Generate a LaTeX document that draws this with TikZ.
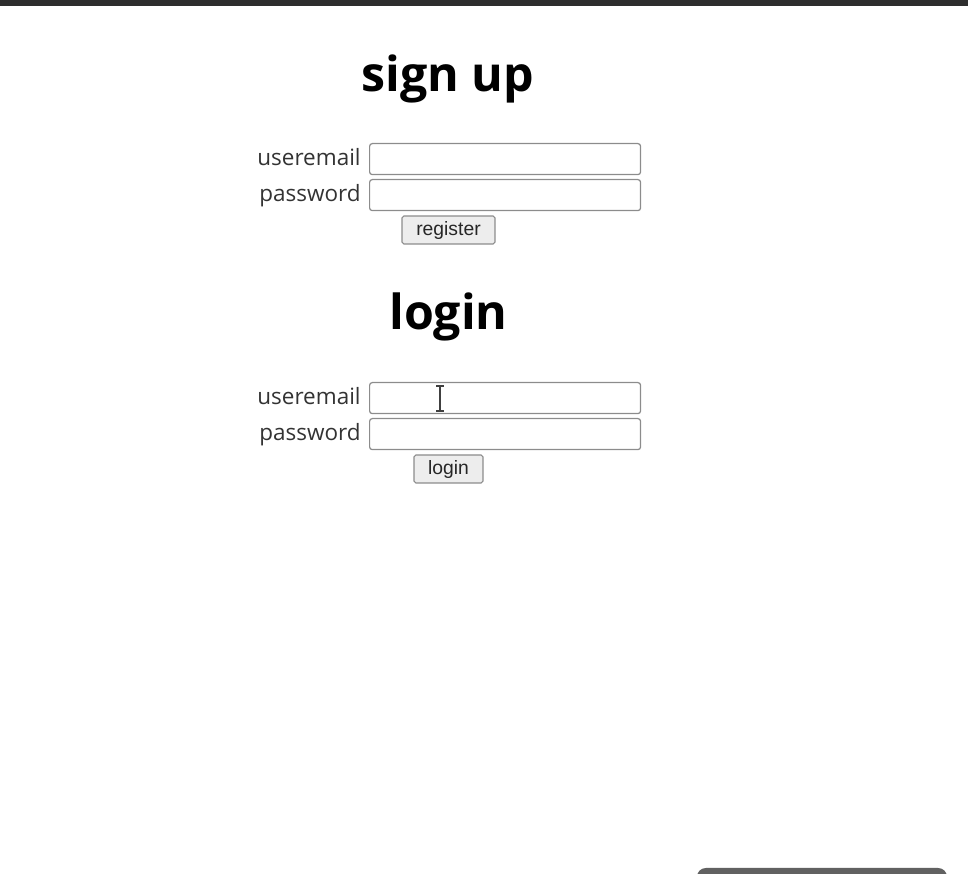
\documentclass[tikz,border=0pt]{standalone}
\usepackage{fontspec}
\setmainfont{Open Sans}
\newfontfamily\btnfont{Liberation Sans}
\usetikzlibrary{positioning}
\tikzset{field/.style={draw = black!45, line width = 0.7pt, rounded corners = 1.5pt,
  minimum width = 5.42cm, minimum height = 0.62cm, inner sep = 0pt},
  button/.style={draw = black!45, fill = black!7, line width = 0.6pt, rounded corners = 1pt,
  inner sep = 0pt, minimum height = 0.56cm, text = black!85},
  btntext/.style={anchor = base, inner sep = 0pt, font = \btnfont\fontsize{11}{12}\selectfont, text = black!85},
  label/.style={anchor = base east, inner sep = 0pt, font = \fontsize{12.8}{14}\selectfont, text = black!80},
  heading/.style={anchor = base, inner sep = 0pt, font = \fontsize{27.5}{30}\selectfont\bfseries}}

\begin{document}
\begin{tikzpicture}[x = 0.02cm, y = -0.02cm]
	\useasboundingbox (0,0) rectangle (968,874);
	\fill[black!82] (0,0) rectangle (968,6);
	
	% sign up
	\node[heading] (signup) at (448,92) {sign up};
	\node[field, anchor = north west] (signmail) at (369,143) {};
	\node[field, anchor = north west] (signpass) at (369,179) {};
	\node[label] (signmaillab) at (361,166) {useremail};
	\node[label] (signpasslab) at (361,202) {password};
	\node[button, minimum width = 1.86cm] (register) at (448.5,230) {};
	\node[btntext] (registertxt) at (448.5,236) {register};
	
	% login
	\node[heading] (login) at (448.5,330) {login};
	\node[field, anchor = north west] (logmail) at (369,382) {};
	\node[field, anchor = north west] (logpass) at (369,418) {};
	\node[label] (logmaillab) at (361,405) {useremail};
	\node[label] (logpasslab) at (361,441) {password};
	\node[button, minimum width = 1.38cm] (loginbtn) at (448.5,469) {};
	\node[btntext] (logintxt) at (448.5,475) {login};
	
	% text cursor
	\draw[line width = 0.9pt, black!75] (440,387) -- (440,410);
	\draw[line width = 0.9pt, black!75] (436,386) -- (444,386);
	\draw[line width = 0.9pt, black!75] (436,411) -- (444,411);
	
	\begin{scope}
		\clip (0,0) rectangle (968,874);
		\fill[black!62, rounded corners = 5pt] (697,868) rectangle (947,890);
	\end{scope}
\end{tikzpicture}
\end{document}
